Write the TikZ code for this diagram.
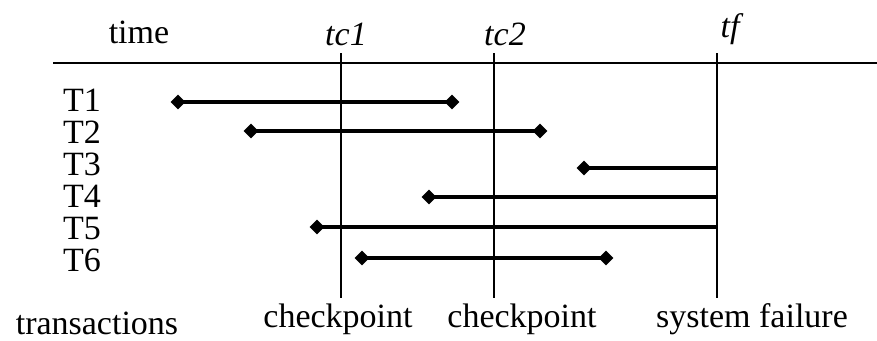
\documentclass[tikz,border=0pt]{standalone}
\usepackage{fontspec}
\setmainfont{Liberation Serif}
\usetikzlibrary{shapes.geometric}
\begin{document}
\begin{tikzpicture}[x=1pt,y=-1pt,
  lbl/.style={anchor=base,inner sep=0pt,font=\fontsize{34}{40}\selectfont},
  tlbl/.style={anchor=base west,inner sep=0pt,font=\fontsize{34}{40}\selectfont},
  dia/.style={diamond,fill=black,inner sep=0pt,minimum width=15pt,minimum height=15pt},
  axis/.style={line width=2pt},
  span/.style={line width=4pt}]
\useasboundingbox (0,0) rectangle (877,340);
% labels
\node[lbl] (time) at (139,43) {time};
\node[lbl] (tc1) at (346,45) {\itshape tc1};
\node[lbl] (tc2) at (505,45) {\itshape tc2};
\node[lbl] (tf) at (730,37) {\itshape tf};
\node[tlbl] (l1) at (63,111) {T1};
\node[tlbl] (l2) at (63,143) {T2};
\node[tlbl] (l3) at (63,175) {T3};
\node[tlbl] (l4) at (63,207) {T4};
\node[tlbl] (l5) at (63,239) {T5};
\node[tlbl] (l6) at (63,271) {T6};
\node[lbl] (trans) at (97,334) {transactions};
\node[lbl] (cp1) at (338,327) {checkpoint};
\node[lbl] (cp2) at (522,327) {checkpoint};
\node[lbl] (sf) at (752,327) {system failure};
% axes
\coordinate (hl) at (53,63);
\coordinate (hr) at (877,63);
\draw[axis] (hl) -- (hr);
\coordinate (c1t) at (341,53); \coordinate (c1b) at (341,298);
\coordinate (c2t) at (494,53); \coordinate (c2b) at (494,298);
\coordinate (ft) at (717,53); \coordinate (fb) at (717,298);
\draw[axis] (c1t) -- (c1b);
\draw[axis] (c2t) -- (c2b);
\draw[axis] (ft) -- (fb);
% transactions
\node[dia] (s1) at (178,102) {}; \node[dia] (e1) at (452,102) {};
\node[dia] (s2) at (251,131) {}; \node[dia] (e2) at (540,131) {};
\node[dia] (s3) at (584,168) {}; \coordinate (e3) at (717,168);
\node[dia] (s4) at (429,197) {}; \coordinate (e4) at (717,197);
\node[dia] (s5) at (317,227) {}; \coordinate (e5) at (717,227);
\node[dia] (s6) at (362,258) {}; \node[dia] (e6) at (606,258) {};
\draw[span] (s1.center) -- (e1.center);
\draw[span] (s2.center) -- (e2.center);
\draw[span] (s3.center) -- (e3);
\draw[span] (s4.center) -- (e4);
\draw[span] (s5.center) -- (e5);
\draw[span] (s6.center) -- (e6.center);
\end{tikzpicture}
\end{document}
